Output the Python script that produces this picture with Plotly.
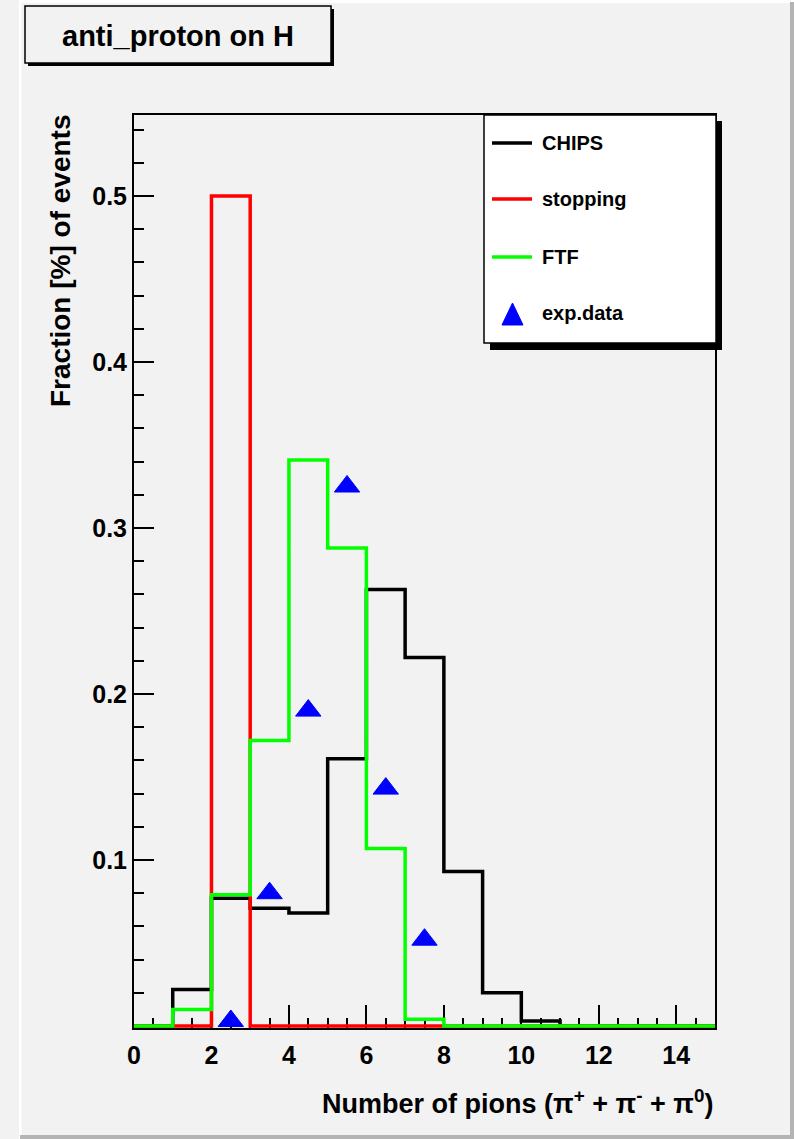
import plotly.graph_objects as go

# ---------------- data ----------------
bin_edges = list(range(16))  # 0..15, bins of width 1
chips = [0.0, 0.022, 0.077, 0.071, 0.068, 0.161, 0.263, 0.222, 0.093, 0.020, 0.003, 0.0, 0.0, 0.0, 0.0]
stopping = [0.0, 0.0, 0.500, 0.0, 0.0, 0.0, 0.0, 0.0, 0.0, 0.0, 0.0, 0.0, 0.0, 0.0, 0.0]
ftf = [0.0, 0.010, 0.079, 0.172, 0.341, 0.288, 0.107, 0.004, 0.0, 0.0, 0.0, 0.0, 0.0, 0.0, 0.0]
exp_x = [2.5, 3.5, 4.5, 5.5, 6.5, 7.5]
exp_y = [0.003, 0.080, 0.190, 0.325, 0.143, 0.052]

y_tickvals = [0.1, 0.2, 0.3, 0.4, 0.5]
y_ticktext = ["0.1", "0.2", "0.3", "0.4", "0.5"]
x_tickvals = [0, 2, 4, 6, 8, 10, 12, 14]
x_ticktext = ["0", "2", "4", "6", "8", "10", "12", "14"]

legend_names = ["CHIPS", "stopping", "FTF", "exp.data"]
title_text = "anti_proton on H"
xtitle = "Number of pions (π<sup>+</sup> + π<sup>-</sup> + π<sup>0</sup>)"
ytitle = "Fraction [%] of events"

# ---------------- geometry ----------------
W, H = 794, 1139
L, R = 134, 715          # plot area left/right in px
T, B = 115, 1028         # plot area top/bottom in px
PW, PH = R - L, B - T
BG = "#f2f2f2"
FONT = "Liberation Sans"


def fx(p):
    return (p - L) / PW


def fy(p):
    return (B - p) / PH


def step(vals):
    return bin_edges, list(vals) + [vals[-1]]


fig = go.Figure()

colors = {"CHIPS": "#000000", "stopping": "#ff0000", "FTF": "#00ff00"}
for name, vals in [("CHIPS", chips), ("stopping", stopping), ("FTF", ftf)]:
    xs, ys = step(vals)
    fig.add_trace(go.Scatter(x=xs, y=ys, mode="lines", line_shape="hv",
                             line=dict(color=colors[name], width=3.5),
                             name=name, showlegend=False))

fig.add_trace(go.Scatter(x=exp_x, y=exp_y, mode="markers", name="exp.data",
                         marker=dict(symbol="triangle-up", size=22, color="#0000ff",
                                     line=dict(color="#0000ff", width=1)),
                         showlegend=False, cliponaxis=False))

shapes = []
annotations = []

# canvas bevel border
shapes.append(dict(type="rect", xref="paper", yref="paper", x0=fx(19), x1=fx(21.5), y0=fy(1139), y1=fy(0),
                   fillcolor="#ffffff", line=dict(width=0), layer="below"))
shapes.append(dict(type="rect", xref="paper", yref="paper", x0=fx(19), x1=fx(794), y0=fy(3), y1=fy(0),
                   fillcolor="#ffffff", line=dict(width=0), layer="below"))
shapes.append(dict(type="rect", xref="paper", yref="paper", x0=fx(790), x1=fx(794), y0=fy(1139), y1=fy(2),
                   fillcolor="#b4b4b4", line=dict(width=0), layer="above"))
shapes.append(dict(type="rect", xref="paper", yref="paper", x0=fx(20), x1=fx(794), y0=fy(1139), y1=fy(1135),
                   fillcolor="#b4b4b4", line=dict(width=0), layer="above"))

# title box with shadow
shapes.append(dict(type="rect", xref="paper", yref="paper", x0=fx(28), x1=fx(334), y0=fy(66), y1=fy(9),
                   fillcolor="#000000", line=dict(width=0), layer="above"))
shapes.append(dict(type="rect", xref="paper", yref="paper", x0=fx(25), x1=fx(331), y0=fy(63), y1=fy(6),
                   fillcolor=BG, line=dict(color="#000000", width=1.5), layer="above"))
annotations.append(dict(text=title_text, xref="paper", yref="paper", x=fx(178), y=fy(36),
                        xanchor="center", yanchor="middle", showarrow=False,
                        font=dict(family=FONT, size=29, color="#000000", weight="bold")))

# legend box with shadow
shapes.append(dict(type="rect", xref="paper", yref="paper", x0=fx(490), x1=fx(722), y0=fy(350), y1=fy(121),
                   fillcolor="#000000", line=dict(width=0), layer="above"))
shapes.append(dict(type="rect", xref="paper", yref="paper", x0=fx(484), x1=fx(716), y0=fy(343), y1=fy(115),
                   fillcolor="#ffffff", line=dict(color="#000000", width=1.5), layer="above"))
rows = [143, 199, 257, 313]
for name, yy in zip(legend_names[:3], rows[:3]):
    shapes.append(dict(type="line", xref="paper", yref="paper", x0=fx(492), x1=fx(532), y0=fy(yy), y1=fy(yy),
                       line=dict(color=colors[name], width=3.5), layer="above"))
# legend triangle
tri = "M {:.5f} {:.5f} L {:.5f} {:.5f} L {:.5f} {:.5f} Z".format(
    fx(502), fy(325), fx(523), fy(325), fx(512.5), fy(303))
shapes.append(dict(type="path", xref="paper", yref="paper", path=tri,
                   fillcolor="#0000ff", line=dict(color="#0000ff", width=1), layer="above"))
for name, yy in zip(legend_names, rows):
    annotations.append(dict(text=name, xref="paper", yref="paper", x=fx(540), y=fy(yy),
                            xanchor="left", yanchor="middle", showarrow=False,
                            font=dict(family=FONT, size=20, color="#000000", weight="bold")))

# axis titles
annotations.append(dict(text=xtitle, xref="paper", yref="paper", x=fx(715), y=fy(1102),
                        xanchor="right", yanchor="middle", showarrow=False,
                        font=dict(family=FONT, size=27, color="#000000", weight="bold")))
annotations.append(dict(text=ytitle, xref="paper", yref="paper", x=fx(61), y=fy(113),
                        xanchor="center", yanchor="top", textangle=-90, showarrow=False,
                        font=dict(family=FONT, size=28, color="#000000", weight="bold")))

ypp = 0.1 / 166.0  # data units per px
fig.update_layout(
    width=W, height=H, autosize=False, template="none",
    margin=dict(l=L, r=W - R, t=T, b=H - B, pad=0),
    paper_bgcolor=BG, plot_bgcolor=BG,
    showlegend=False,
    shapes=shapes, annotations=annotations,
    xaxis=dict(range=[0, 15], showgrid=False, zeroline=False, automargin=False,
               showline=True, linecolor="#000000", linewidth=2, mirror=True,
               tickmode="array", tickvals=x_tickvals, ticktext=x_ticktext,
               ticks="inside", ticklen=23, tickwidth=2, tickcolor="#000000",
               minor=dict(dtick=0.5, tick0=0, ticks="inside", ticklen=10, tickwidth=2, tickcolor="#000000"),
               tickfont=dict(family=FONT, size=25, color="#000000", weight="bold"),
               ticklabelstandoff=4, layer="below traces"),
    yaxis=dict(range=[-2 * ypp, (1026 - T) * ypp], showgrid=False, zeroline=False, automargin=False,
               showline=True, linecolor="#000000", linewidth=2, mirror=True,
               tickmode="array", tickvals=y_tickvals, ticktext=y_ticktext,
               ticks="inside", ticklen=20, tickwidth=2, tickcolor="#000000",
               minor=dict(dtick=0.02, tick0=0, ticks="inside", ticklen=10, tickwidth=2, tickcolor="#000000"),
               tickfont=dict(family=FONT, size=25, color="#000000", weight="bold"),
               ticklabelstandoff=0, layer="below traces"),
)

fig.write_html("out.html", config={"displayModeBar": False},
               post_script="document.body.style.margin='0px';document.body.style.overflow='hidden';")
